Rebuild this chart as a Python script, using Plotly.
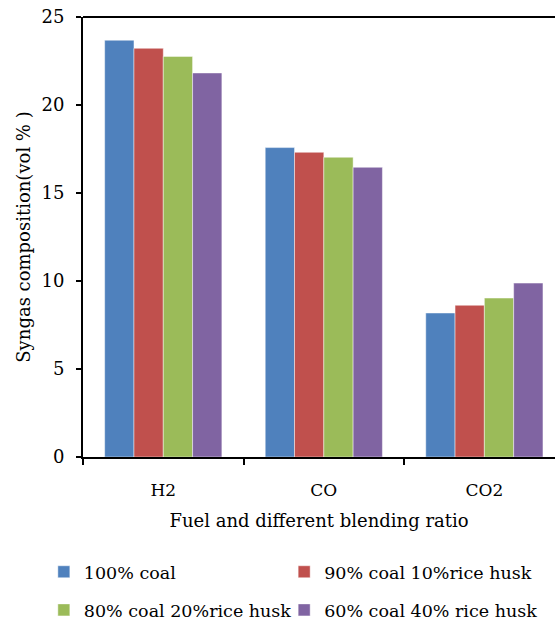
import plotly.graph_objects as go

categories = ["H2", "CO", "CO2"]
series_names = ["100% coal", "90% coal 10%rice husk", "80% coal 20%rice husk", "60% coal 40% rice husk"]
coal100 = [23.68, 17.58, 8.18]
coal90 = [23.22, 17.31, 8.62]
coal80 = [22.76, 17.03, 9.03]
coal60 = [21.82, 16.46, 9.88]
colors = ["#4F81BD", "#C0504D", "#9BBB59", "#8064A2"]
legend_ids = ["legend", "legend2", "legend3", "legend4"]

FONT = "DejaVu Serif"

fig = go.Figure()
for name, vals, col, lg in zip(series_names, [coal100, coal90, coal80, coal60], colors, legend_ids):
    fig.add_trace(go.Bar(
        x=categories, y=vals, name=name, legend=lg,
        marker=dict(color=col, line=dict(color="rgba(255,255,255,0.45)", width=1)),
    ))

legend_common = dict(
    orientation="h", xanchor="left", yanchor="middle",
    xref="container", yref="container",
    font=dict(family=FONT, size=17.5, color="black"),
    itemwidth=30, tracegroupgap=0, bgcolor="rgba(0,0,0,0)",
)
col1, col2 = 0.079, 0.512
row1, row2 = 0.085, 0.024

fig.update_layout(
    width=555, height=625,
    margin=dict(l=83, r=0, t=17, b=168),
    paper_bgcolor="white", plot_bgcolor="white",
    barmode="group", bargap=0.27, bargroupgap=0,
    font=dict(family=FONT, color="black", size=16),
    showlegend=True,
    legend=dict(x=col1, y=row1, **legend_common),
    legend2=dict(x=col2, y=row1, **legend_common),
    legend3=dict(x=col1, y=row2, **legend_common),
    legend4=dict(x=col2, y=row2, **legend_common),
    xaxis=dict(
        type="category", range=[-0.5, 2.44], automargin=False,
        showline=True, linecolor="black", linewidth=2,
        ticks="outside", tickson="boundaries", ticklen=6, tickwidth=2, tickcolor="black",
        tickfont=dict(family=FONT, size=17), ticklabelstandoff=17,
        title=dict(text="Fuel and different blending ratio", font=dict(family=FONT, size=18), standoff=15),
        showgrid=False, zeroline=False,
    ),
    yaxis=dict(
        range=[0, 25], dtick=5, automargin=False,
        showline=True, linecolor="black", linewidth=2,
        ticks="outside", ticklen=5, tickwidth=2, tickcolor="black",
        tickfont=dict(family=FONT, size=18), ticklabelstandoff=8,
        title=dict(text="Syngas composition(vol % )", font=dict(family=FONT, size=18), standoff=6),
        showgrid=False, zeroline=False,
    ),
    shapes=[dict(type="line", xref="paper", yref="paper", x0=0, x1=1, y0=1, y1=1,
                 line=dict(color="black", width=2))],
)

fig.write_html("out.html")
